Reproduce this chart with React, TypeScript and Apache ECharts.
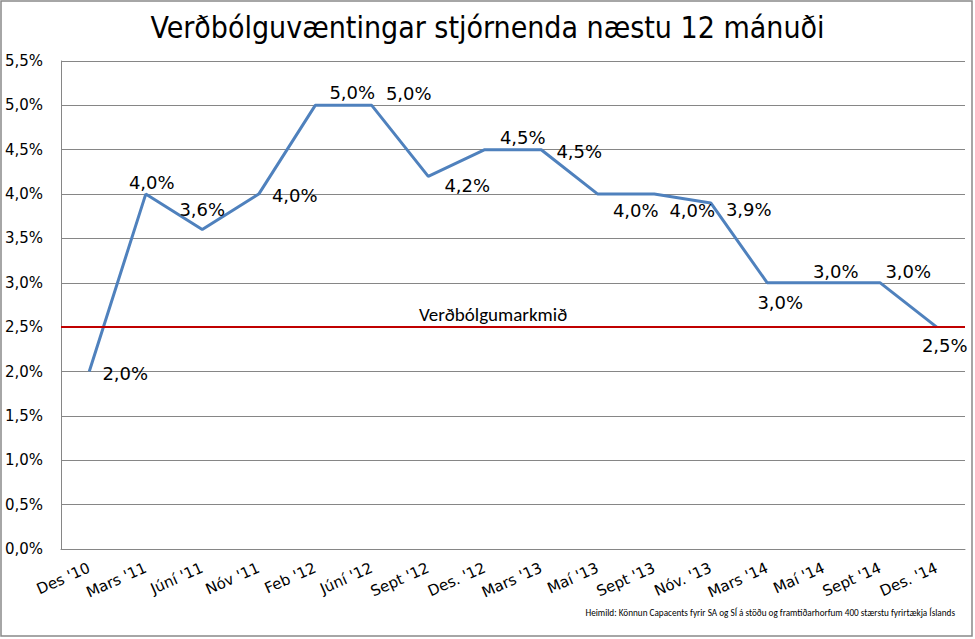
import React, { useEffect, useRef } from "react";
import * as echarts from "echarts";

const categories = [
  "Des '10", "Mars '11", "Júní '11", "Nóv '11", "Feb '12", "Júní '12", "Sept '12", "Des. '12",
  "Mars '13", "Maí '13", "Sept '13", "Nóv. '13", "Mars '14", "Maí '14", "Sept '14", "Des. '14",
];
const expectations = [2.0, 4.0, 3.6, 4.0, 5.0, 5.0, 4.2, 4.5, 4.5, 4.0, 4.0, 3.9, 3.0, 3.0, 3.0, 2.5];
const targetValue = 2.5;
const targetLabel = "Verðbólgumarkmið";
const titleText = "Verðbólguvæntingar stjórnenda næstu 12 mánuði";
const sourceText = "Heimild: Könnun Capacents fyrir SA og SÍ á stöðu og framtíðarhorfum 400 stærstu fyrirtækja Íslands";

// label placement (style only): offset of label centre from point
const labelOffsets: [number, number][] = [
  [36, 2], [6, -12], [0, -20], [36, 1], [37, -13], [37, -12], [39, 9], [38, -12],
  [38, 2], [38, 16], [38, 16], [38, 7], [13, 20], [12, -11], [28, -11], [8, 18],
];

const fmt = (v: number) => v.toFixed(1).replace(".", ",") + "%";

export default function App() {
  const ref = useRef<HTMLDivElement>(null);
  useEffect(() => {
    document.body.style.margin = "0";
    const chart = echarts.init(ref.current!, null, { renderer: "svg" });
    const axisFont = "Verdana, 'DejaVu Sans', sans-serif";
    chart.setOption({
      animation: false,
      backgroundColor: "#ffffff",
      title: {
        text: titleText,
        left: "center",
        top: 7,
        textStyle: {
          fontFamily: "Tahoma, 'DejaVu Sans Condensed', 'DejaVu Sans', sans-serif",
          fontSize: 30,
          fontWeight: "normal",
          color: "#000",
        },
      },
      grid: { left: 61, right: 10, top: 61, bottom: 90, containLabel: false },
      xAxis: {
        type: "category",
        data: categories,
        boundaryGap: true,
        axisLine: { show: true, lineStyle: { color: "#868686", width: 1 } },
        axisTick: { show: false },
        axisLabel: {
          interval: 0,
          rotate: 24,
          margin: 18,
          fontSize: 15,
          fontFamily: axisFont,
          color: "#000",
        },
      },
      yAxis: {
        type: "value",
        min: 0,
        max: 5.5,
        interval: 0.5,
        axisLine: { show: true, lineStyle: { color: "#868686", width: 1 } },
        axisTick: { show: false },
        splitLine: { show: true, lineStyle: { color: "#868686", width: 1 } },
        axisLabel: {
          formatter: (v: number) => fmt(v),
          fontSize: 15,
          fontFamily: axisFont,
          color: "#000",
          margin: 18,
        },
      },
      series: [
        {
          type: "line",
          data: expectations.map((v, i) => ({
            value: v,
            label: { offset: labelOffsets[i] },
          })),
          showSymbol: true,
          symbol: "circle",
          symbolSize: 0,
          lineStyle: { color: "#4F81BD", width: 3 },
          itemStyle: { color: "#4F81BD" },
          label: {
            show: true,
            position: "inside",
            formatter: (p: any) => fmt(p.value),
            fontSize: 18,
            fontFamily: axisFont,
            color: "#000",
          },
          markLine: {
            silent: true,
            symbol: "none",
            lineStyle: { color: "#C00000", width: 2, type: "solid" },
            label: {
              show: true,
              position: "insideMiddleTop",
              formatter: targetLabel,
              distance: 3,
              padding: [0, 40, 0, 0],
              fontSize: 19,
              fontFamily: "Calibri, 'Open Sans', 'DejaVu Sans', sans-serif",
              color: "#000",
            },
            data: [{ yAxis: targetValue }],
          },
          z: 3,
        },
      ],
      graphic: [
        {
          type: "rect",
          shape: { x: 1, y: 1, width: 971, height: 635 },
          style: { fill: "none", stroke: "#898989", lineWidth: 1.5 },
          silent: true,
        },
        {
          type: "text",
          x: 955,
          y: 612,
          style: {
            text: sourceText,
            textAlign: "right",
            textVerticalAlign: "middle",
            fontSize: 9.2,
            fontFamily: "Calibri, 'Liberation Sans Narrow', 'Liberation Sans', sans-serif",
            fill: "#000",
          },
        },
      ],
    });
    return () => chart.dispose();
  }, []);
  return <div ref={ref} style={{ width: 975, height: 639 }} />;
}
